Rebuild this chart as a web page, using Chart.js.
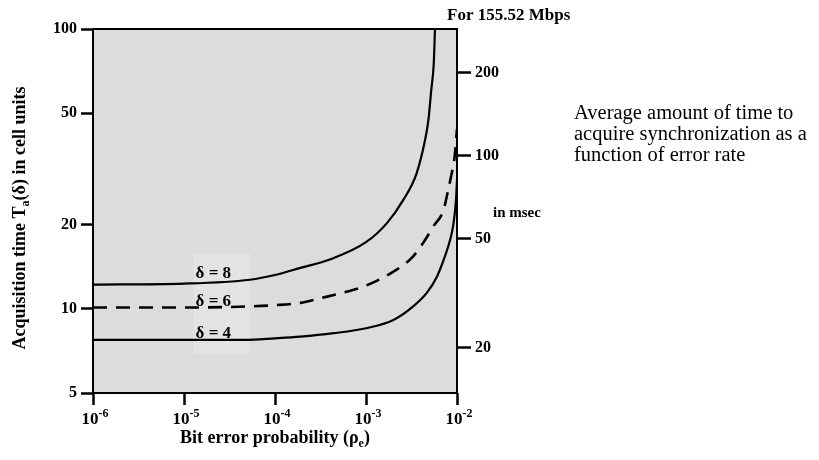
<!DOCTYPE html>
<html>
<head>
<meta charset="utf-8">
<script src="https://cdn.jsdelivr.net/npm/chart.js@4/dist/chart.umd.min.js"></script>
<style>
html, body { margin: 0; padding: 0; background: #fff; }
#wrap { width: 819px; height: 460px; }
</style>
</head>
<body>
<div id="wrap"><canvas id="chart" width="819" height="460"></canvas></div>
<script>
// bit error probability (x) and acquisition time in cell units (y)
const ERR_8 = [1e-6, 1e-5, 5.3e-5, 1e-4, 1.9e-4, 4.0e-4, 1e-3, 1.69e-3, 2.57e-3, 3.6e-3, 4.45e-3, 4.84e-3, 5.2e-3, 5.55e-3, 5.73e-3];
const TIME_8 = [12.2, 12.3, 12.7, 13.2, 14.0, 15.0, 17.3, 20.2, 24.5, 30.5, 40, 47, 60, 75, 100];

const ERR_6 = [1e-6, 1e-5, 5.3e-5, 1e-4, 1.9e-4, 3.13e-4, 6.1e-4, 1e-3, 2.17e-3, 3.3e-3, 4.45e-3, 5.5e-3, 7.1e-3, 8.0e-3, 8.75e-3, 9.33e-3, 1e-2];
const TIME_6 = [10.1, 10.1, 10.2, 10.3, 10.5, 10.9, 11.5, 12.1, 13.8, 15.4, 17.6, 19.7, 22.5, 26.6, 30.5, 34, 44];

const ERR_4 = [1e-6, 1e-5, 4.7e-5, 1e-4, 1.9e-4, 4.4e-4, 1e-3, 2e-3, 3.3e-3, 4.65e-3, 6.0e-3, 7.1e-3, 8.0e-3, 8.75e-3, 9.27e-3, 9.75e-3, 1e-2];
const TIME_4 = [7.74, 7.74, 7.74, 7.84, 7.95, 8.18, 8.52, 9.12, 10.2, 11.4, 13.0, 14.9, 16.7, 18.6, 20.8, 24.5, 28.8];

const CURVE_NAMES = ['\u03b4 = 8', '\u03b4 = 6', '\u03b4 = 4'];

const X_TICKS = [1e-6, 1e-5, 1e-4, 1e-3, 1e-2];
const X_TICK_EXP = ['-6', '-5', '-4', '-3', '-2'];
const Y_TICKS = [5, 10, 20, 50, 100];
const MSEC_TICKS = [20, 50, 100, 200];

const SERIF = '"Liberation Serif", "Times New Roman", serif';

function toPoints(xs, ys) {
    var pts = [];
    for (var i = 0; i < xs.length; i++)
        pts.push({x: xs[i], y: ys[i]});
    return pts;
}

function lineSet(name, xs, ys, dash) {
    return {
        label: name,
        data: toPoints(xs, ys),
        borderColor: '#000',
        borderWidth: dash ? 2.6 : 2.2,
        borderDash: dash || [],
        pointRadius: 0,
        fill: false,
        cubicInterpolationMode: 'monotone'
    };
}

// text with a raised (up > 0) or lowered (up < 0) small part in the middle
function drawScripted(ctx, parts, x, y, align) {
    var widths = [], total = 0;
    parts.forEach(p => {
        ctx.font = 'bold ' + p.size + 'px ' + SERIF;
        var w = ctx.measureText(p.text).width;
        widths.push(w);
        total += w;
    });
    var cx = align == 'center' ? x - total / 2 : x;
    ctx.textAlign = 'left';
    ctx.textBaseline = 'alphabetic';
    parts.forEach((p, i) => {
        ctx.font = 'bold ' + p.size + 'px ' + SERIF;
        ctx.fillText(p.text, cx, y - (p.up || 0));
        cx += widths[i];
    });
}

const decor = {
    id: 'decor',
    beforeDatasetsDraw(chart) {
        const {ctx, chartArea: a} = chart;
        const sx = chart.scales.x, sy = chart.scales.y;
        ctx.save();
        ctx.fillStyle = '#dcdbde';
        ctx.fillRect(a.left, a.top, a.right - a.left, a.bottom - a.top);
        // lighter patch behind the curve names
        const bx0 = sx.getPixelForValue(1.26e-5), bx1 = sx.getPixelForValue(5.3e-5);
        const by0 = sy.getPixelForValue(15.8), by1 = sy.getPixelForValue(6.9);
        ctx.fillStyle = '#e3e2e4';
        ctx.fillRect(bx0, by0, bx1 - bx0, by1 - by0);
        ctx.restore();
    },
    afterDatasetsDraw(chart) {
        const {ctx, chartArea: a} = chart;
        const sx = chart.scales.x, sy = chart.scales.y;
        ctx.save();
        ctx.strokeStyle = '#000';
        ctx.lineWidth = 2;
        ctx.strokeRect(a.left, a.top, a.right - a.left, a.bottom - a.top);

        // curve names
        const nameY = [13.32, 10.57, 8.13];
        ctx.fillStyle = '#000';
        ctx.font = 'bold 17px ' + SERIF;
        ctx.textAlign = 'center';
        ctx.textBaseline = 'middle';
        CURVE_NAMES.forEach((n, i) => {
            ctx.fillText(n, sx.getPixelForValue(2.1e-5), sy.getPixelForValue(nameY[i]));
        });
        ctx.restore();
    },
    afterDraw(chart) {
        const {ctx, chartArea: a} = chart;
        const sx = chart.scales.x;
        ctx.save();
        ctx.fillStyle = '#000';

        // x tick labels as powers of ten
        X_TICKS.forEach((v, i) => {
            drawScripted(ctx, [
                {text: '10', size: 17},
                {text: X_TICK_EXP[i], size: 12, up: 7}
            ], sx.getPixelForValue(v) + 2, a.bottom + 31, 'center');
        });

        // x title
        drawScripted(ctx, [
            {text: 'Bit error probability (\u03c1', size: 18},
            {text: 'e', size: 12, up: -4},
            {text: ')', size: 18}
        ], (a.left + a.right) / 2, 443, 'center');

        // y title, rotated
        ctx.save();
        ctx.translate(25, 218);
        ctx.rotate(-Math.PI / 2);
        drawScripted(ctx, [
            {text: 'Acquisition time T', size: 18},
            {text: 'a', size: 12, up: -4},
            {text: '(\u03b4) in cell units', size: 18}
        ], 0, 0, 'center');
        ctx.restore();

        // right axis notes
        ctx.textAlign = 'left';
        ctx.textBaseline = 'alphabetic';
        ctx.font = 'bold 17px ' + SERIF;
        ctx.fillText('For 155.52 Mbps', 447, 20);
        ctx.font = 'bold 15px ' + SERIF;
        ctx.fillText('in msec', 493, 217);

        // caption
        ctx.font = '20.5px ' + SERIF;
        ctx.fillText('Average amount of time to', 574, 119);
        ctx.fillText('acquire synchronization as a', 574, 140);
        ctx.fillText('function of error rate', 574, 161);
        ctx.restore();
    }
};

const tickFont = {family: SERIF, size: 16, weight: 'bold'};

new Chart(document.getElementById('chart'), {
    type: 'line',
    data: {
        datasets: [
            lineSet(CURVE_NAMES[0], ERR_8, TIME_8),
            lineSet(CURVE_NAMES[1], ERR_6, TIME_6, [14, 9]),
            lineSet(CURVE_NAMES[2], ERR_4, TIME_4)
        ]
    },
    options: {
        responsive: false,
        animation: false,
        devicePixelRatio: 1,
        layout: {padding: {top: 29, left: 0, right: 0, bottom: 0}},
        plugins: {legend: {display: false}, tooltip: {enabled: false}},
        scales: {
            x: {
                type: 'logarithmic',
                position: 'bottom',
                min: 1e-6,
                max: 1e-2,
                afterBuildTicks: s => { s.ticks = X_TICKS.map(v => ({value: v})); },
                afterFit: s => { s.height = 67; },
                ticks: {autoSkip: false, callback: () => ''},
                grid: {drawOnChartArea: false, drawTicks: true, tickLength: 12, tickWidth: 2.5, tickColor: '#000'},
                border: {display: false}
            },
            y: {
                type: 'logarithmic',
                position: 'left',
                min: 5,
                max: 100,
                afterBuildTicks: s => { s.ticks = Y_TICKS.map(v => ({value: v})); },
                afterFit: s => { s.width = 93; },
                ticks: {autoSkip: false, padding: 4, color: '#000', font: tickFont, callback: v => String(v)},
                grid: {drawOnChartArea: false, drawTicks: true, tickLength: 12, tickWidth: 2.5, tickColor: '#000'},
                border: {display: false}
            },
            msec: {
                type: 'logarithmic',
                position: 'right',
                min: 13.7,
                max: 289,
                afterBuildTicks: s => { s.ticks = MSEC_TICKS.map(v => ({value: v})); },
                afterFit: s => { s.width = 362; },
                ticks: {autoSkip: false, padding: 4, color: '#000', font: tickFont, callback: v => String(v)},
                grid: {drawOnChartArea: false, drawTicks: true, tickLength: 14, tickWidth: 2.5, tickColor: '#000'},
                border: {display: false}
            }
        }
    },
    plugins: [decor]
});
</script>
</body>
</html>
